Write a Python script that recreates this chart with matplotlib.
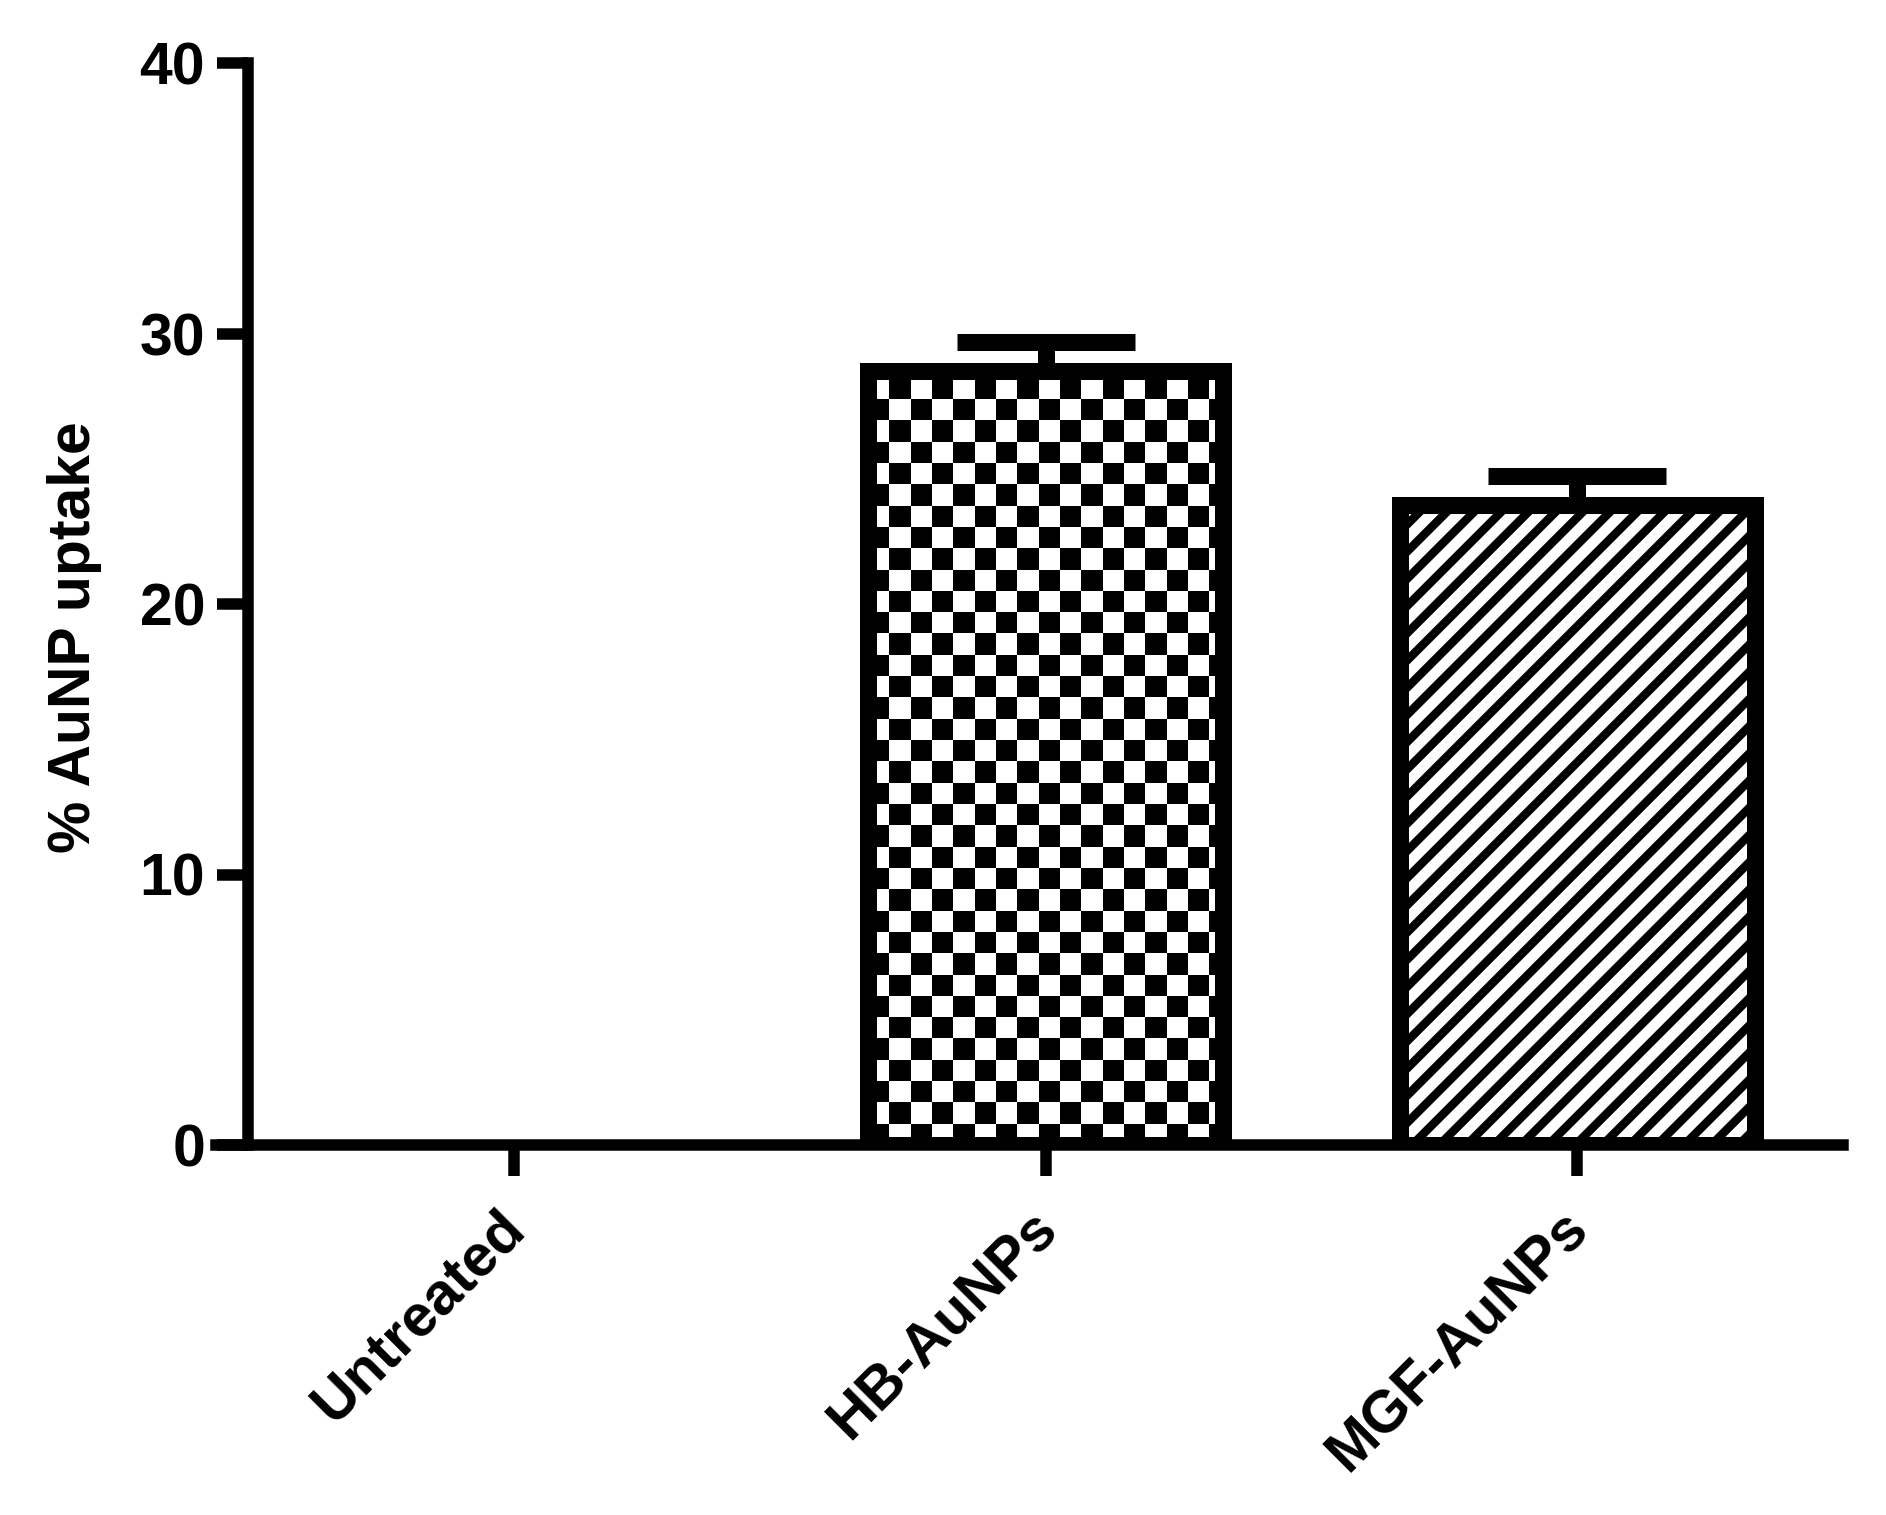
import numpy as np
import matplotlib
matplotlib.use("Agg")
import matplotlib.pyplot as plt
from matplotlib.transforms import ScaledTranslation, IdentityTransform
from matplotlib.collections import LineCollection

# ---- data ----
categories = ["Untreated", "HB-AuNPs", "MGF-AuNPs"]
means = [0.0, 28.63, 23.67]
sems = [0.0, 1.04, 1.07]
ylabel = "% AuNP uptake"
yticks = [0, 10, 20, 30, 40]

# ---- style ----
DPI = 163
W, H = 1886, 1515
def px(v):
    return v * 72.0 / DPI

plt.rcParams["font.family"] = ["Liberation Sans", "DejaVu Sans"]
plt.rcParams["font.weight"] = "bold"

fig = plt.figure(figsize=(W / DPI, H / DPI), dpi=DPI)
ax_left, ax_right, ax_bottom_px, ax_top_px = 248, 1843, 1145, 63
ax = fig.add_axes([ax_left / W, (H - ax_bottom_px) / H,
                   (ax_right - ax_left) / W, (ax_bottom_px - ax_top_px) / H])

x = np.arange(len(categories))
xlim = (-0.5, len(categories) - 0.5)
ylim = (0, 40)
bar_width = 0.668
ax.set_xlim(*xlim)
ax.set_ylim(*ylim)

edge_lw = px(17)
bars = ax.bar(x, means, width=bar_width, facecolor="none", edgecolor="black",
              linewidth=edge_lw, zorder=3)
for b in bars:
    if b.get_height() == 0:
        b.set_visible(False)

# checkerboard image clipped to the HB bar
ax_w_px = ax_right - ax_left
ax_h_px = ax_bottom_px - ax_top_px
sq_px = 21.3
sx = sq_px * (xlim[1] - xlim[0]) / ax_w_px
sy = sq_px * (ylim[1] - ylim[0]) / ax_h_px
b = bars[1]
x0 = b.get_x()
ncols = int(np.ceil(b.get_width() / sx)) + 1
nrows = int(np.ceil(b.get_height() / sy)) + 1
ii, jj = np.mgrid[0:nrows, 0:ncols]
checker = ((ii + jj) % 2).astype(float)
im = ax.imshow(checker, cmap="gray", vmin=0, vmax=1, origin="lower",
               interpolation="nearest", aspect="auto",
               extent=(x0, x0 + ncols * sx, 0, nrows * sy), zorder=2)
im.set_clip_path(b)
ax.set_xlim(*xlim)
ax.set_ylim(*ylim)

# diagonal hatch ("/") clipped to the MGF bar, built in pixel space
b = bars[2]
ext = b.get_window_extent()
spacing = 27.2
hgt = ext.y1 - ext.y0
segs = []
c = ext.x0 - hgt - spacing
while c < ext.x1 + spacing:
    segs.append([(c, ext.y0), (c + hgt, ext.y1)])
    c += spacing
lc = LineCollection(segs, colors="black", linewidths=px(8.5),
                    transform=IdentityTransform(), zorder=2)
ax.add_collection(lc, autolim=False)
lc.set_clip_path(b)

# error bars (upper only)
mask = np.array(sems) > 0
ax.errorbar(x[mask], np.array(means)[mask],
            yerr=[np.zeros(mask.sum()), np.array(sems)[mask]],
            fmt="none", ecolor="black", elinewidth=px(17),
            capsize=px(178) / 2, capthick=px(17), zorder=4)

ax.set_xlim(*xlim)
ax.set_ylim(*ylim)

# axes style
for s in ["top", "right"]:
    ax.spines[s].set_visible(False)
ax.spines["left"].set_linewidth(px(11.5))
ax.spines["bottom"].set_linewidth(px(11.5))
ax.spines["left"].set_capstyle("projecting")
extd = 31.5 * (xlim[1] - xlim[0]) / ax_w_px
ax.spines["bottom"].set_bounds(xlim[0] - extd, xlim[1])

ax.set_yticks(yticks)
ax.set_yticklabels([str(v) for v in yticks])
ax.set_xticks(x)
ax.set_xticklabels(categories, rotation=45, ha="right", va="top",
                   rotation_mode="anchor")
ax.tick_params(axis="both", which="major", length=px(31), width=px(11.5),
               color="black", labelsize=26)
ax.tick_params(axis="y", pad=px(12))
ax.tick_params(axis="x", pad=px(24.5))
for lab in ax.get_xticklabels():
    lab.set_fontweight("bold")
    lab.set_transform(lab.get_transform() +
                      ScaledTranslation(px(-17.5) / 72, 0, fig.dpi_scale_trans))
for lab in ax.get_yticklabels():
    lab.set_fontweight("bold")

ax.set_ylabel(ylabel, fontsize=26, fontweight="bold", va="center")
ax.yaxis.set_label_coords((75 - ax_left) / ax_w_px,
                          (ax_bottom_px - 637) / ax_h_px)

fig.savefig("out.png", dpi=DPI, facecolor="white")
